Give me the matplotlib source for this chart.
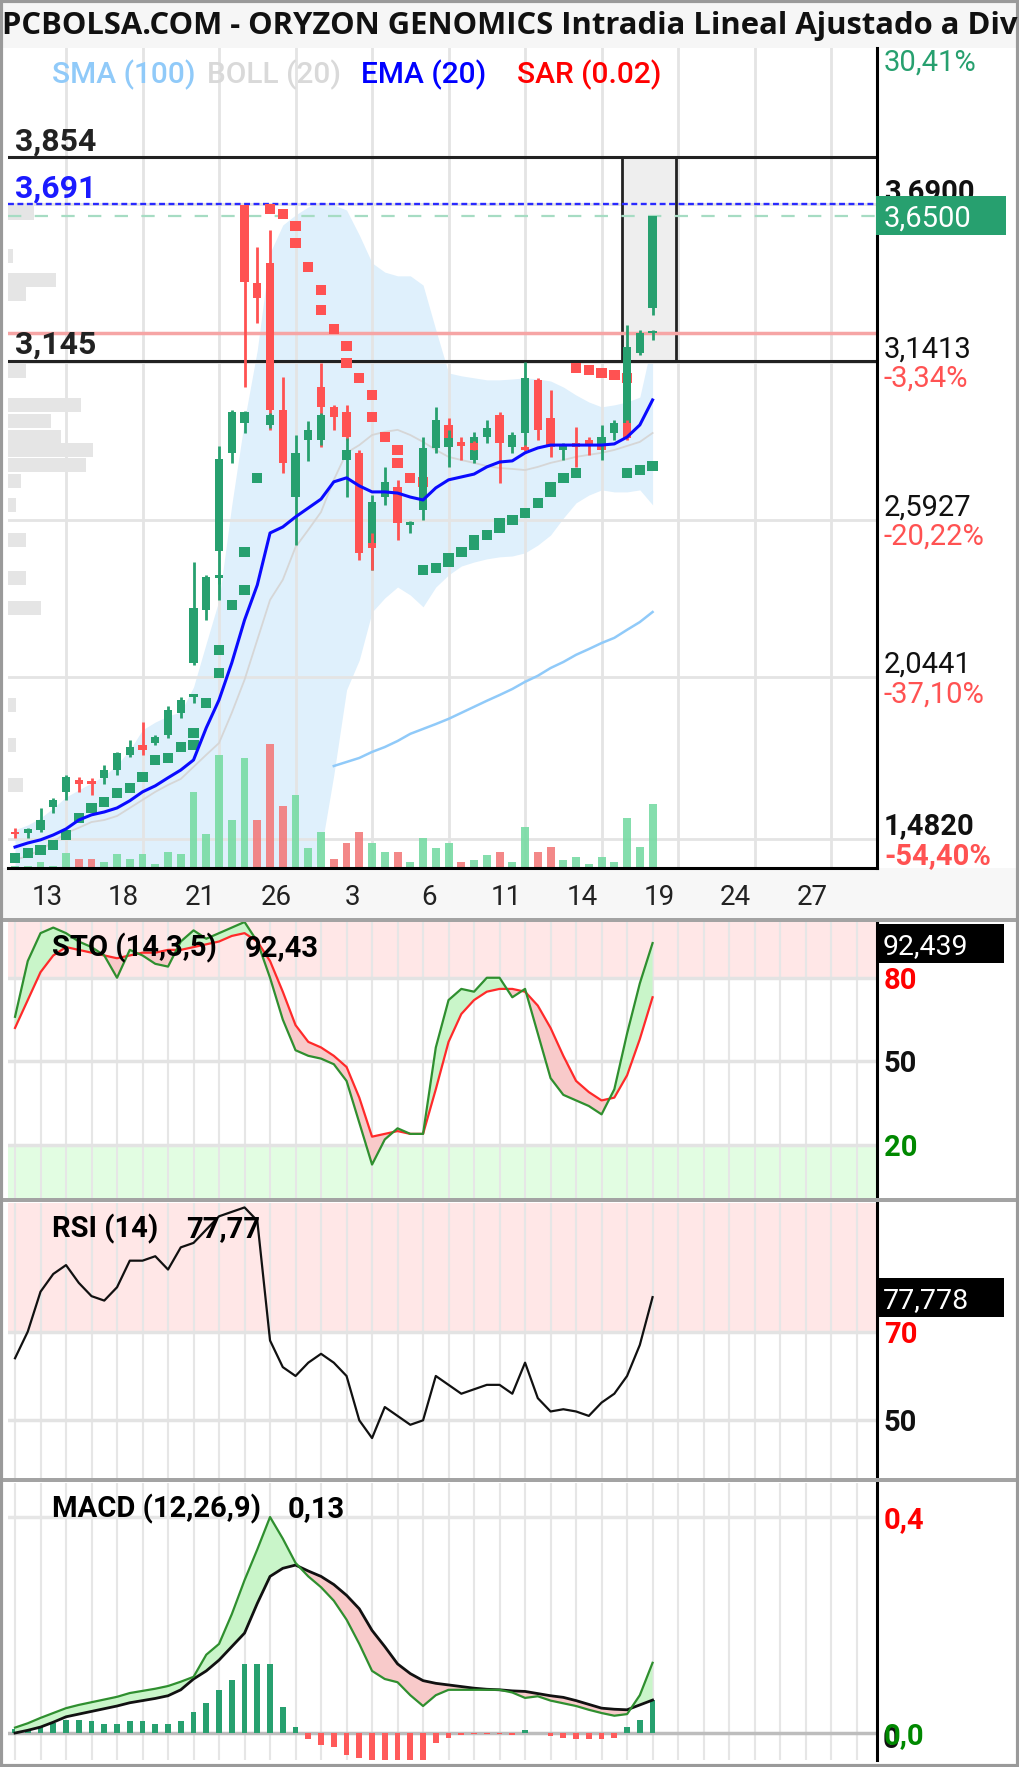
import math
import numpy as np
import matplotlib
matplotlib.use("Agg")
import matplotlib.pyplot as plt
import matplotlib.transforms as mtransforms
from matplotlib.patches import Rectangle

plt.rcParams["font.family"] = ["Roboto", "DejaVu Sans"]

W, H = 1020, 1767

# ---------------- data ----------------
opens = [1.506, 1.502, 1.513, 1.593, 1.645, 1.687, 1.683, 1.694, 1.721, 1.774,
         1.808, 1.815, 1.843, 1.920, 2.094, 2.278, 2.484, 2.825, 3.688, 3.416,
         3.486, 2.974, 2.671, 2.870, 3.054, 2.985, 2.967, 2.825, 2.497, 2.671,
         2.706, 2.574, 2.626, 2.842, 2.922, 2.863, 2.800, 2.880, 2.957, 2.845,
         2.894, 3.079, 2.946, 2.835, 2.859, 2.870, 2.859, 2.894, 2.929, 3.173, 3.329]
highs = [1.520, 1.520, 1.589, 1.624, 1.704, 1.697, 1.694, 1.739, 1.784, 1.826,
         1.888, 1.843, 1.944, 1.975, 2.445, 2.400, 2.849, 2.974, 3.688, 3.541,
         3.601, 3.089, 2.887, 2.936, 3.138, 2.992, 2.992, 2.835, 2.678, 2.776,
         2.731, 2.588, 2.880, 2.985, 2.946, 2.880, 2.898, 2.939, 2.967, 2.898,
         3.141, 3.086, 3.044, 2.859, 2.915, 2.880, 2.870, 2.939, 3.270, 3.253, 3.650]
lows = [1.485, 1.485, 1.506, 1.572, 1.617, 1.645, 1.634, 1.673, 1.704, 1.767,
        1.774, 1.808, 1.833, 1.902, 2.087, 2.243, 2.313, 2.790, 3.054, 3.277,
        2.905, 2.755, 2.504, 2.797, 2.845, 2.905, 2.870, 2.452, 2.417, 2.644,
        2.522, 2.546, 2.591, 2.825, 2.825, 2.800, 2.790, 2.859, 2.720, 2.825,
        2.845, 2.870, 2.811, 2.800, 2.776, 2.818, 2.828, 2.870, 2.922, 3.166, 3.305]
closes = [1.499, 1.516, 1.547, 1.617, 1.697, 1.673, 1.673, 1.721, 1.781, 1.801,
          1.791, 1.836, 1.930, 1.965, 2.285, 2.393, 2.804, 2.967, 3.420, 3.364,
          2.974, 2.790, 2.825, 2.905, 2.985, 2.950, 2.880, 2.477, 2.654, 2.724,
          2.581, 2.584, 2.842, 2.939, 2.852, 2.849, 2.880, 2.912, 2.859, 2.887,
          3.086, 2.905, 2.845, 2.852, 2.845, 2.852, 2.835, 2.929, 3.195, 3.242, 3.650]

# second bar drawn in the same column
extra_idx = [14, 16, 18, 20, 24, 26, 28, 34, 36, 40, 46, 48, 50]
extra_open = [1.975, 2.390, 2.929, 2.922, 2.870, 2.800, 2.511, 2.845, 2.859, 2.845, 2.852, 2.929, 3.242]
extra_high = [1.985, 2.400, 2.970, 2.964, 2.964, 2.877, 2.546, 2.905, 2.866, 2.852, 2.922, 2.939, 3.253]
extra_low = [1.955, 2.370, 2.894, 2.912, 2.852, 2.671, 2.417, 2.776, 2.835, 2.830, 2.800, 2.870, 3.218]
extra_close = [1.985, 2.400, 2.967, 2.957, 2.957, 2.835, 2.494, 2.877, 2.835, 2.835, 2.880, 2.877, 3.249]

sar = [1.415, 1.433, 1.443, 1.460, 1.495, 1.554, 1.589, 1.610, 1.641, 1.659,
       1.697, 1.756, 1.763, 1.801, 1.808, 1.955, 2.059, 2.296, 2.348, 2.738,
       3.674, 3.656, 3.615, 3.472, 3.392, 3.256, 3.197, 3.086, 3.026, 2.880,
       2.835, 2.738, 2.724, 2.424, 2.445, 2.480, 2.504, 2.539, 2.564, 2.591,
       2.616, 2.651, 2.689, 2.738, 2.755, 3.113, 3.103, 3.096, 3.086, 2.765, 2.779]
sar2_idx = [14, 16, 18, 22, 24, 26, 28, 30, 32, 34, 36, 38, 42, 44, 48]
sar2 = [1.850, 2.139, 2.480, 3.555, 3.322, 3.138, 2.950, 2.790, 2.417, 2.459,
        2.522, 2.581, 2.706, 3.120, 2.755]

ema20 = [1.453, 1.467, 1.478, 1.495, 1.516, 1.547, 1.565, 1.575, 1.589, 1.614,
         1.645, 1.666, 1.694, 1.721, 1.756, 1.868, 1.965, 2.094, 2.243, 2.365,
         2.546, 2.567, 2.602, 2.633, 2.664, 2.724, 2.738, 2.710, 2.689, 2.689,
         2.685, 2.671, 2.661, 2.703, 2.731, 2.741, 2.751, 2.776, 2.793, 2.797,
         2.825, 2.842, 2.852, 2.852, 2.852, 2.852, 2.852, 2.856, 2.880, 2.922, 3.009]
sma100 = [None] * 25 + [1.735, 1.749, 1.763, 1.784, 1.801, 1.822, 1.847, 1.864, 1.881,
                        1.899, 1.920, 1.941, 1.962, 1.982, 2.003, 2.028, 2.049, 2.076,
                        2.097, 2.122, 2.142, 2.163, 2.181, 2.209, 2.236, 2.271]
boll_up = [1.513, 1.530, 1.554, 1.589, 1.627, 1.652, 1.676, 1.701, 1.739, 1.791,
           1.861, 1.888, 1.909, 1.923, 2.010, 2.163, 2.313, 2.644, 2.939, 3.183,
           3.521, 3.618, 3.653, 3.681, 3.698, 3.688, 3.670, 3.583, 3.486, 3.454,
           3.441, 3.441, 3.409, 3.253, 3.103, 3.093, 3.086, 3.079, 3.079, 3.082,
           3.086, 3.082, 3.075, 3.054, 3.026, 3.002, 2.985, 2.992, 3.002, 3.019, 3.218]
boll_mid = [1.408, 1.422, 1.443, 1.471, 1.502, 1.520, 1.540, 1.547, 1.561, 1.589,
            1.617, 1.645, 1.669, 1.690, 1.732, 1.774, 1.815, 1.920, 2.035, 2.174,
            2.313, 2.383, 2.497, 2.557, 2.619, 2.731, 2.825, 2.852, 2.887, 2.898,
            2.905, 2.887, 2.863, 2.835, 2.811, 2.800, 2.790, 2.779, 2.772, 2.769,
            2.765, 2.776, 2.790, 2.800, 2.811, 2.818, 2.825, 2.835, 2.849, 2.863, 2.894]
boll_lo = [1.269, 1.286, 1.304, 1.321, 1.339, 1.356, 1.366, 1.373, 1.373, 1.373,
           1.366, 1.356, 1.339, 1.321, 1.304, 1.269, 1.199, 1.130, 1.060, 1.060,
           1.095, 1.165, 1.234, 1.304, 1.443, 1.704, 2.000, 2.104, 2.271, 2.320,
           2.358, 2.330, 2.289, 2.358, 2.400, 2.431, 2.445, 2.456, 2.463, 2.466,
           2.477, 2.504, 2.539, 2.598, 2.651, 2.678, 2.696, 2.689, 2.689, 2.696, 2.644]

volume = [20, 20, 60, 20, 150, 90, 90, 60, 140, 90,
          140, 40, 160, 140, 760, 340, 1130, 480, 1100, 480,
          1240, 620, 730, 200, 360, 90, 250, 360, 250, 160,
          160, 60, 300, 200, 250, 60, 80, 130, 160, 60,
          410, 160, 210, 80, 110, 40, 110, 60, 500, 210, 640]
vol_dir = "gggggrr" + "gggggggggggg" + "rrr" + "ggg" + "rrr" + "gg" + "r" + "gggg" + "r" + "gg" + "r" + "gg" + "rr" + "gggggggg"

profile_price = [3.660, 3.510, 3.427, 3.378, 3.110, 2.992, 2.936, 2.880, 2.835,
                 2.783, 2.727, 2.644, 2.522, 2.390, 2.285, 1.948, 1.808, 1.669]
profile_vol = [26, 5, 48, 18, 18, 73, 43, 53, 85, 78, 13, 8, 18, 18, 33, 8, 8, 15]

sto_k = [66, 86, 96, 98, 96, 93, 91, 88, 80, 90, 88, 85, 84, 93, 97, 94, 96, 98, 100, 93,
         80, 65, 54, 52, 51, 49, 43, 28, 13, 22, 26, 24, 24, 55, 72, 76, 75, 80, 80, 73,
         76, 60, 44, 38, 36, 34, 31, 40, 60, 78, 92.439]
sto_d = [62, 72, 82, 88, 91, 90, 89, 88, 87, 88, 89, 89, 90, 90, 91, 92, 93, 95, 96, 93,
         86, 75, 63, 57, 55, 52, 48, 37, 23, 24, 25, 24, 24, 40, 57, 67, 72, 75, 76, 76,
         75, 70, 62, 52, 43, 39, 36, 37, 45, 58, 73]
rsi = [64, 70, 79, 83, 85, 81, 78, 77, 80, 86, 86, 87, 84, 89, 90, 93, 96, 97, 98, 95,
       68, 62, 60, 63, 65, 63, 60, 50, 46, 53, 51, 49, 50, 60, 58, 56, 57, 58, 58, 56,
       63, 55, 52, 52.5, 52, 51, 54, 56, 60, 67, 77.778]
macd = [0.010, 0.018, 0.028, 0.037, 0.046, 0.052, 0.057, 0.062, 0.067, 0.074,
        0.078, 0.082, 0.087, 0.095, 0.104, 0.145, 0.165, 0.220, 0.283, 0.340,
        0.400, 0.360, 0.315, 0.290, 0.270, 0.245, 0.210, 0.165, 0.115, 0.100,
        0.094, 0.070, 0.050, 0.070, 0.080, 0.080, 0.080, 0.080, 0.080, 0.075,
        0.065, 0.068, 0.060, 0.055, 0.050, 0.043, 0.037, 0.032, 0.035, 0.070, 0.130]
macd_signal = [0.000, 0.005, 0.011, 0.020, 0.030, 0.035, 0.040, 0.045, 0.050, 0.056,
               0.060, 0.064, 0.069, 0.080, 0.100, 0.115, 0.135, 0.160, 0.185, 0.240,
               0.290, 0.305, 0.311, 0.300, 0.290, 0.275, 0.255, 0.230, 0.190, 0.160,
               0.128, 0.110, 0.097, 0.092, 0.089, 0.086, 0.083, 0.081, 0.080, 0.078,
               0.077, 0.073, 0.069, 0.066, 0.060, 0.053, 0.046, 0.044, 0.043, 0.052, 0.061]
macd_hist = [0.008, 0.012, 0.015, 0.019, 0.025, 0.025, 0.023, 0.017, 0.017, 0.023,
             0.023, 0.017, 0.017, 0.023, 0.038, 0.056, 0.080, 0.098, 0.128, 0.128,
             0.128, 0.049, 0.012, -0.012, -0.022, -0.025, -0.040, -0.046, -0.060, -0.060,
             -0.060, -0.060, -0.060, -0.019, -0.009, -0.003, -0.002, -0.002, -0.002, -0.004,
             0.006, 0.000, -0.006, -0.009, -0.011, -0.012, -0.011, -0.009, 0.012, 0.025, 0.062]

date_pos = [2.5, 8.5, 14.5, 20.5, 26.5, 32.5, 38.5, 44.5, 50.5, 56.5, 62.5]
date_labels = ["13", "18", "21", "26", "3", "6", "11", "14", "19", "24", "27"]
grid_idx = [4, 10, 16, 22, 28, 34, 40, 46, 52, 58, 64]
price_grid = [3.69, 3.1413, 2.5927, 2.0441, 1.482]
grid_pct = [None, "-3,34%", "-20,22%", "-37,10%", "-54,40%"]

level_high, level_low = 3.854, 3.145
max_level = 3.691
ref_level = 3.242
last_price = 3.65
zoom_from, zoom_to = 47.6, 51.8

GREEN = "#27a06f"
RED = "#ff5252"

# ---------------- layout helpers ----------------
fig = plt.figure(figsize=(W / 100, H / 100), dpi=100)


def px_box(x0, y0, x1, y1):
    return [x0 / W, 1 - y1 / H, (x1 - x0) / W, (y1 - y0) / H]


def fig_rect(x0, y0, x1, y1, z=1, **kw):
    fig.patches.append(Rectangle((x0 / W, 1 - y1 / H), (x1 - x0) / W, (y1 - y0) / H,
                                 transform=fig.transFigure, zorder=z, **kw))


def bare(a):
    a.set_xticks([])
    a.set_yticks([])
    for s in a.spines.values():
        s.set_visible(False)
    a.patch.set_visible(False)


def ytrans(a):
    return mtransforms.blended_transform_factory(a.transAxes, a.transData)


def fmt(v, nd):
    return f"{v:.{nd}f}".replace(".", ",")


def trunc(v, nd):
    f = 10 ** nd
    return fmt(math.floor(v * f) / f, nd)


# backgrounds sit below every axes
fig_rect(0, 0, W, 48, z=-10, facecolor="#f6f6f6", lw=0)
fig_rect(0, 868, W, 918, z=-10, facecolor="#f7f7f7", lw=0)
for y0 in (918, 1198, 1478):
    fig_rect(0, y0, W, y0 + 4, facecolor="#a3a3a3", lw=0)

XLIM = (-0.55, 67.6)
YLIM = (1.380, 4.234)
MAIN = (8, 48, 877, 868)
xs = np.arange(len(closes))

# background: grid + bollinger
ax_bg = fig.add_axes(px_box(*MAIN))
bare(ax_bg)
ax_bg.set_xlim(XLIM)
ax_bg.set_ylim(YLIM)
for g in grid_idx:
    ax_bg.axvline(g, color="#e4e4e4", lw=2)
for p in price_grid:
    ax_bg.axhline(p, color="#e4e4e4", lw=2)
ax_bg.fill_between(xs, boll_lo, boll_up, color="#dff0fc", lw=0)
ax_bg.plot(xs, boll_mid, color="#d6d6d6", lw=1.3)

# volume profile at the left edge
ax_prof = fig.add_axes(px_box(*MAIN))
bare(ax_prof)
ax_prof.set_xlim(0, 869)
ax_prof.set_ylim(YLIM)
ax_prof.barh(profile_price, profile_vol, height=0.05, color="#e5e5e5")

# volume
vax = fig.add_axes(px_box(*MAIN))
bare(vax)
vax.set_xlim(XLIM)
vax.set_ylim(0, 8200)
vax.bar(xs, volume, width=0.62,
        color=["#78dba4" if d == "g" else "#f27b7b" for d in vol_dir], alpha=0.9)

# price
ax = fig.add_axes(px_box(*MAIN))
ax.patch.set_visible(False)
ax.set_xlim(XLIM)
ax.set_ylim(YLIM)
ax.set_xticks([])
ax.set_yticks([])
for s in ("left", "top"):
    ax.spines[s].set_visible(False)
for s in ("right", "bottom"):
    ax.spines[s].set_color("black")
    ax.spines[s].set_linewidth(2.2)

ax.add_patch(Rectangle((zoom_from, level_low), zoom_to - zoom_from, level_high - level_low,
                       facecolor="#eeeeee", edgecolor="#222222", lw=2, zorder=1))
ax.axhline(ref_level, color="#f6a5a5", lw=2.5, zorder=1.5)
ax.axhline(level_high, color="#222222", lw=2.2, zorder=2)
ax.axhline(level_low, color="#222222", lw=2.2, zorder=2)
ax.axhline(max_level, color="#2a2aff", lw=1.7, ls=(0, (2.5, 1.5)), zorder=2)
ax.axhline(last_price, color="#a6dcc3", lw=1.6, ls=(0, (6, 6)), zorder=2)

sma_arr = np.array([np.nan if v is None else v for v in sma100])
ax.plot(xs, sma_arr, color="#90caf9", lw=1.8, zorder=3)


def candles(idx, o, h, l, c):
    o, h, l, c = map(np.asarray, (o, h, l, c))
    cols = [GREEN if cc >= oo else RED for oo, cc in zip(o, c)]
    ax.vlines(idx, l, h, colors=cols, lw=2, zorder=5)
    ax.bar(idx, np.maximum(np.abs(c - o), 0.007), bottom=np.minimum(o, c),
           width=0.64, color=cols, zorder=5)


candles(xs, opens, highs, lows, closes)
candles(extra_idx, extra_open, extra_high, extra_low, extra_close)

sar_cols = [RED if v > opens[i] else GREEN for i, v in enumerate(sar)]
ax.scatter(xs, sar, marker="s", s=56, c=sar_cols, lw=0, zorder=4)
sar2_cols = [RED if v > opens[i] else GREEN for i, v in zip(sar2_idx, sar2)]
ax.scatter(sar2_idx, sar2, marker="s", s=56, c=sar2_cols, lw=0, zorder=4)

ax.plot(xs, ema20, color="#0a0aff", lw=2.2, zorder=6)

# level labels on the left
for val, col in ((level_high, "#222222"), (max_level, "#1a1aff"), (level_low, "#222222")):
    ax.annotate(fmt(val, 3), xy=(0, val), xycoords=ytrans(ax), xytext=(5, 5),
                textcoords="offset points", ha="left", va="baseline",
                fontsize=23, fontweight="bold", color=col, zorder=8)

# right price scale
for i, (p, pct) in enumerate(zip(price_grid, grid_pct)):
    bold = i in (0, len(price_grid) - 1)
    ax.annotate(fmt(p, 4), xy=(1, p), xycoords=ytrans(ax), xytext=(5, 3),
                textcoords="offset points", ha="left", va="baseline", fontsize=21,
                fontweight="bold" if bold else "normal", color="#111111",
                annotation_clip=False)
    if pct:
        ax.annotate(pct, xy=(1, p), xycoords=ytrans(ax), xytext=(5, -18),
                    textcoords="offset points", ha="left", va="baseline", fontsize=21,
                    fontweight="bold" if bold else "normal", color="#ff5252",
                    annotation_clip=False)

half = 19.5 * (YLIM[1] - YLIM[0]) / 820
ax.add_patch(Rectangle((0.9988, last_price - half), 0.1496, 2 * half, transform=ytrans(ax),
                       facecolor=GREEN, lw=0, clip_on=False, zorder=9))
ax.annotate(fmt(last_price, 4), xy=(1, last_price), xycoords=ytrans(ax), xytext=(5, 0),
            textcoords="offset points", ha="left", va="center_baseline", fontsize=21,
            color="white", annotation_clip=False, zorder=10)
fig.text(884 / W, 1 - 63 / H, "30,41%", color=GREEN, fontsize=21, va="center", ha="left")

# date axis
dtrans = mtransforms.blended_transform_factory(ax.transData, fig.transFigure)
for p, lab in zip(date_pos, date_labels):
    ax.text(p, 1 - 897 / H, lab, transform=dtrans, ha="center", va="center",
            fontsize=20, color="#222222", clip_on=False)

# title and legend
fig.text(2 / W, 1 - 26 / H, "PCBOLSA.COM - ORYZON GENOMICS Intradia Lineal Ajustado a Dividendos",
         fontsize=22.3, fontweight="bold", family=["Open Sans", "DejaVu Sans"],
         va="center", ha="left", color="#111111")
for x, txt, col in ((52, "SMA (100)", "#90caf9"), (207, "BOLL (20)", "#d9d9d9"),
                    (361, "EMA (20)", "#0000ff"), (517, "SAR (0.02)", "#ff0000")):
    fig.text(x / W, 1 - 75 / H, txt, fontsize=21.5, color=col, va="center", ha="left",
             fontweight="medium")


# ---------------- indicator panels ----------------
def panel(y0, y1, lim):
    a = fig.add_axes(px_box(8, y0, 877, y1))
    a.set_xlim(XLIM)
    a.set_ylim(lim)
    a.set_xticks([])
    a.set_yticks([])
    for s in ("left", "top", "bottom"):
        a.spines[s].set_visible(False)
    a.spines["right"].set_color("black")
    a.spines["right"].set_linewidth(2.2)
    for g in np.arange(0, 68, 2):
        a.axvline(g, color="#e6e6e6", lw=1.5, zorder=1)
    return a


def scale_label(a, v, txt, col):
    a.annotate(txt, xy=(1, v), xycoords=ytrans(a), xytext=(5, 0), textcoords="offset points",
               ha="left", va="center_baseline", fontsize=21, fontweight="bold", color=col,
               annotation_clip=False)


def value_box(a, v, txt):
    lo, hi = a.get_ylim()
    hpx = a.get_position().height * H
    hh = 19.5 * (hi - lo) / hpx
    a.add_patch(Rectangle((1.002, v - hh), 0.1438, 2 * hh, transform=ytrans(a),
                          facecolor="black", lw=0, clip_on=False, zorder=9))
    a.annotate(txt, xy=(1, v), xycoords=ytrans(a), xytext=(4, 0), textcoords="offset points",
               ha="left", va="center_baseline", fontsize=20.5, color="white",
               annotation_clip=False, zorder=10)


def panel_title(a, name, val, xval):
    a.text(0.0506, 0.905, name, transform=a.transAxes, fontsize=21, fontweight="bold",
           va="center", ha="left", zorder=10)
    a.text(xval, 0.905, val, transform=a.transAxes, fontsize=21, fontweight="bold",
           va="center", ha="left", zorder=10)


k = np.array(sto_k, float)
d = np.array(sto_d, float)
sto = panel(922, 1198, (1, 100))
sto.axhspan(80, 100, color="#ffe7e7", lw=0, zorder=0)
sto.axhspan(1, 20, color="#e2fde2", lw=0, zorder=0)
for v in (80, 50, 20):
    sto.axhline(v, color="#e3e3e3", lw=2.5, zorder=1)
sto.fill_between(xs, k, d, where=k >= d, interpolate=True, color="#c9f5c9", lw=0, zorder=2)
sto.fill_between(xs, k, d, where=k < d, interpolate=True, color="#f8caca", lw=0, zorder=2)
sto.plot(xs, d, color="#ff2a2a", lw=1.6, zorder=3)
sto.plot(xs, k, color="#2f8f2f", lw=1.6, zorder=4)
panel_title(sto, "STO (14,3,5)", trunc(sto_k[-1], 2), 0.273)
scale_label(sto, 80, "80", "#ff0000")
scale_label(sto, 50, "50", "#111111")
scale_label(sto, 20, "20", "#008800")
value_box(sto, sto_k[-1], fmt(sto_k[-1], 3))

rs = panel(1203, 1478, (37, 99))
rs.axhspan(70, 99, color="#ffe7e7", lw=0, zorder=0)
for v in (70, 50):
    rs.axhline(v, color="#e3e3e3", lw=2.5, zorder=1)
rs.plot(xs, rsi, color="#111111", lw=1.6, zorder=3)
panel_title(rs, "RSI (14)", trunc(rsi[-1], 2), 0.205)
scale_label(rs, 70, "70", "#ff0000")
scale_label(rs, 50, "50", "#111111")
value_box(rs, rsi[-1], fmt(rsi[-1], 3))

m = np.array(macd)
sg = np.array(macd_signal)
hist = np.array(macd_hist)
mc = panel(1483, 1760, (-0.05, 0.463))
mc.axhline(0.4, color="#e6e6e6", lw=2.5, zorder=1)
mc.axhline(0.0, color="#bdbdbd", lw=2.5, zorder=1)
mc.bar(xs, hist, width=0.45, color=[GREEN if v >= 0 else "#ff5a5a" for v in hist], zorder=2)
mc.fill_between(xs, m, sg, where=m >= sg, interpolate=True, color="#c9f5c9", lw=0, zorder=3)
mc.fill_between(xs, m, sg, where=m < sg, interpolate=True, color="#f8caca", lw=0, zorder=3)
mc.plot(xs, sg, color="#111111", lw=2, zorder=4)
mc.plot(xs, m, color="#2f8f2f", lw=1.6, zorder=5)
panel_title(mc, "MACD (12,26,9)", fmt(macd[-1], 2), 0.322)
scale_label(mc, 0.4, "0,4", "#ff0000")
mc.annotate("0", xy=(1, 0.0), xycoords=ytrans(mc), xytext=(4, -3), textcoords="offset points",
            ha="left", va="center_baseline", fontsize=21, fontweight="bold", color="#111111",
            annotation_clip=False)
scale_label(mc, 0.0, "0,0", "#008800")

# outer frame
fig_rect(1.5, 1.5, W - 1.5, H - 1.5, facecolor="none", edgecolor="#9a9a9a", lw=3)

fig.savefig("out.png", dpi=100)
